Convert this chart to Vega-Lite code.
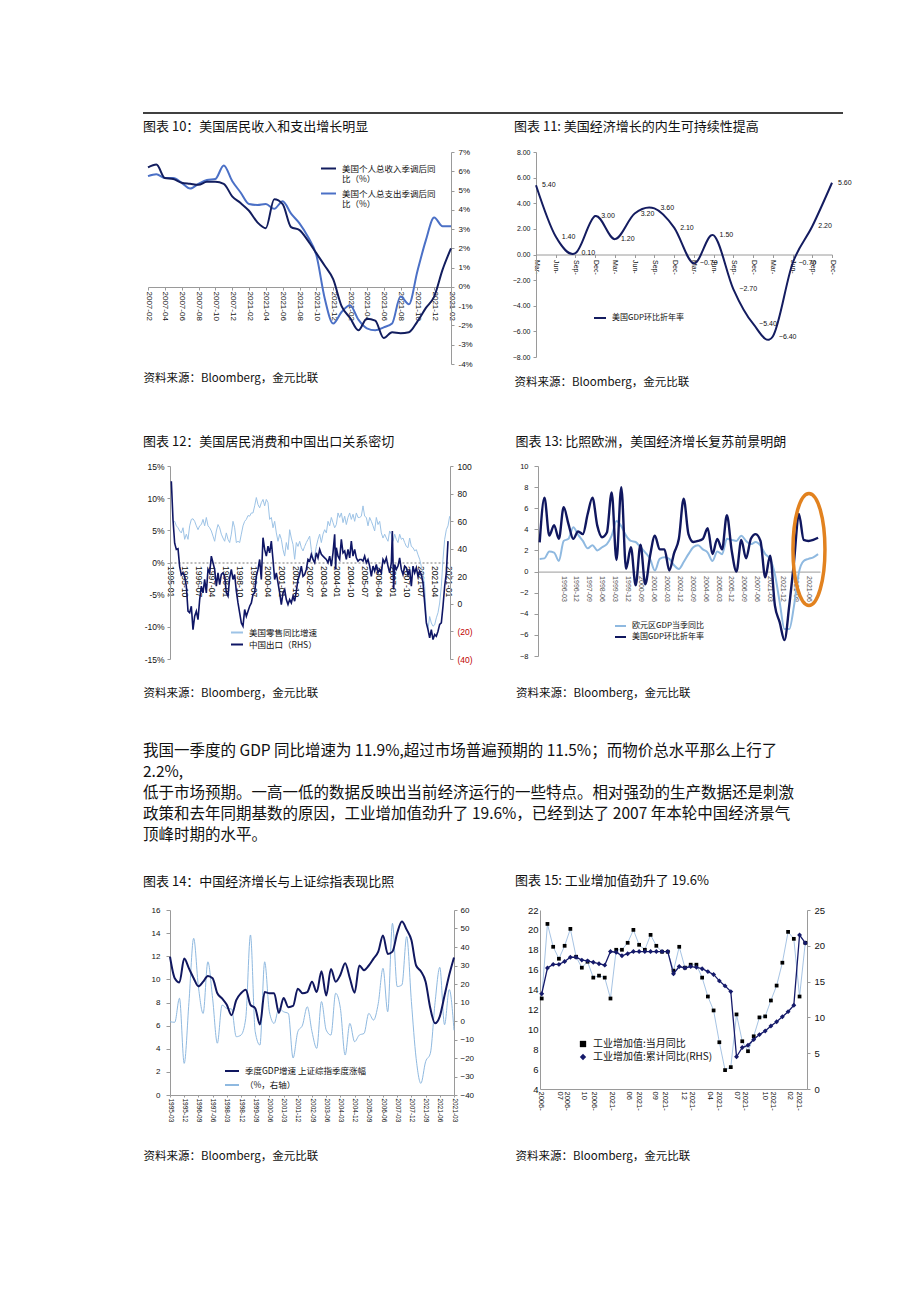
{
"$schema": "https://vega.github.io/schema/vega-lite/v6.json",
"background": "white",
"padding": {"left": 140, "top": 112, "right": 10, "bottom": 10},
"config": {
 "view": {"stroke": null},
 "font": "Liberation Sans",
 "axis": {"grid": false, "labelFont": "Liberation Sans", "labelColor": "#111", "domainColor": "#9a9a9a", "tickColor": "#9a9a9a", "tickSize": 3, "labelFontSize": 8, "labelOverlap": false, "labelFlush": false, "tickCount": 200, "titleFont": "Noto Sans CJK SC", "titleFontSize": 11.5, "titleFontWeight": "normal", "titleColor": "#111", "titleAlign": "left", "titleBaseline": "middle", "titleAngle": 0},
 "title": {"font": "Noto Sans CJK SC", "fontSize": 13, "fontWeight": "normal", "anchor": "start", "color": "#111", "frame": "group"},
 "legend": {"orient": "none", "labelFont": "Noto Sans CJK SC", "labelFontSize": 8.5, "labelColor": "#111", "symbolType": "stroke", "symbolStrokeWidth": 2, "symbolSize": 225, "rowPadding": 2, "padding": 0, "labelOffset": 5, "title": null}
},
"datasets": {
 "para": [
  {"i": 1, "t": "我国一季度的 GDP 同比增速为 11.9%,超过市场普遍预期的 11.5%；而物价总水平那么上行了"},
  {"i": 2, "t": "2.2%,"},
  {"i": 3, "t": "低于市场预期。一高一低的数据反映出当前经济运行的一些特点。相对强劲的生产数据还是刺激"},
  {"i": 4, "t": "政策和去年同期基数的原因，工业增加值劲升了 19.6%，已经到达了 2007 年本轮中国经济景气"},
  {"i": 5, "t": "顶峰时期的水平。"}
 ],
 "c10": [
  {"m":0,"inc":6.2,"exp":5.75},{"m":1,"inc":6.35,"exp":5.85},{"m":2,"inc":5.65,"exp":5.65},{"m":3,"inc":5.6,"exp":5.65},
  {"m":4,"inc":5.4,"exp":5.4},{"m":5,"inc":5.35,"exp":5.1},{"m":6,"inc":5.3,"exp":5.35},{"m":7,"inc":5.45,"exp":5.55},
  {"m":8,"inc":5.45,"exp":5.6},{"m":9,"inc":5.35,"exp":6.3},{"m":10,"inc":4.7,"exp":5.5},{"m":11,"inc":4.35,"exp":4.9},
  {"m":12,"inc":3.95,"exp":4.3},{"m":13,"inc":3.35,"exp":4.25},{"m":14,"inc":3.05,"exp":4.3},{"m":15,"inc":4.55,"exp":4.05},
  {"m":16,"inc":4.3,"exp":4.45},{"m":17,"inc":3.1,"exp":3.8},{"m":18,"inc":2.95,"exp":3.3},{"m":19,"inc":2.4,"exp":2.6},
  {"m":20,"inc":1.75,"exp":1.65},{"m":21,"inc":1.1,"exp":-0.6},{"m":22,"inc":0.4,"exp":-1.9},{"m":23,"inc":-1.0,"exp":-1.3},
  {"m":24,"inc":-1.6,"exp":-0.95},{"m":25,"inc":-2.25,"exp":-1.7},{"m":26,"inc":-1.65,"exp":-2.15},{"m":27,"inc":-1.75,"exp":-2.25},
  {"m":28,"inc":-2.65,"exp":-2.1},{"m":29,"inc":-2.35,"exp":-1.9},{"m":30,"inc":-2.4,"exp":-0.5},{"m":31,"inc":-2.35,"exp":-0.9},
  {"m":32,"inc":-1.8,"exp":0.8},{"m":33,"inc":-1.1,"exp":2.4},{"m":34,"inc":-0.5,"exp":3.6},{"m":35,"inc":0.9,"exp":3.15},{"m":36,"inc":2.0,"exp":3.15}
 ],
 "c11": [
  {"q":0,"v":5.4},{"q":1,"v":1.4},{"q":2,"v":0.1},{"q":3,"v":3.0},{"q":4,"v":1.2},{"q":5,"v":3.2},{"q":6,"v":3.6},{"q":7,"v":2.1},
  {"q":8,"v":-0.7},{"q":9,"v":1.5},{"q":10,"v":-2.7},{"q":11,"v":-5.4},{"q":12,"v":-6.4},{"q":13,"v":-0.7},{"q":14,"v":2.2},{"q":15,"v":5.6}
 ],
 "c12r": [
  {"t":6,"v":6.2},{"t":7,"v":6.4},{"t":8,"v":5.7},{"t":9,"v":5.4},{"t":10,"v":4.9},{"t":11,"v":4.6},{"t":12,"v":5.4},{"t":13,"v":3.6},{"t":14,"v":4.4},{"t":15,"v":3.6},
  {"t":16,"v":5.7},{"t":17,"v":6.7},{"t":18,"v":6.8},{"t":19,"v":6.4},{"t":20,"v":5.7},{"t":21,"v":5.1},{"t":22,"v":5.7},{"t":23,"v":5.9},{"t":24,"v":6.7},{"t":25,"v":5.7},
  {"t":26,"v":7.0},{"t":27,"v":5.7},{"t":28,"v":5.4},{"t":29,"v":4.9},{"t":30,"v":4.1},{"t":31,"v":3.3},{"t":32,"v":4.9},{"t":33,"v":5.9},{"t":34,"v":5.4},{"t":35,"v":4.4},
  {"t":36,"v":3.8},{"t":37,"v":3.3},{"t":38,"v":4.6},{"t":39,"v":3.6},{"t":40,"v":3.1},{"t":41,"v":4.4},{"t":42,"v":6.4},{"t":43,"v":5.4},{"t":44,"v":3.1},{"t":45,"v":3.3},
  {"t":46,"v":3.1},{"t":47,"v":4.4},{"t":48,"v":5.7},{"t":49,"v":6.4},{"t":50,"v":6.7},{"t":51,"v":7.3},{"t":52,"v":7.2},{"t":53,"v":7.7},{"t":54,"v":7.7},{"t":55,"v":8.8},
  {"t":56,"v":10.1},{"t":57,"v":9.0},{"t":58,"v":8.5},{"t":59,"v":9.3},{"t":60,"v":9.8},{"t":61,"v":8.8},{"t":62,"v":9.8},{"t":63,"v":9.3},{"t":64,"v":6.7},{"t":65,"v":7.0},
  {"t":66,"v":5.4},{"t":67,"v":6.4},{"t":68,"v":4.6},{"t":69,"v":3.3},{"t":70,"v":4.4},{"t":71,"v":3.6},{"t":72,"v":2.0},{"t":73,"v":1.0},{"t":74,"v":3.1},{"t":75,"v":2.0},
  {"t":76,"v":5.1},{"t":77,"v":3.8},{"t":78,"v":2.8},{"t":79,"v":0.5},{"t":80,"v":3.1},{"t":81,"v":2.5},{"t":82,"v":3.3},{"t":83,"v":2.3},{"t":84,"v":1.8},{"t":85,"v":2.5},
  {"t":86,"v":3.1},{"t":87,"v":3.6},{"t":88,"v":4.1},{"t":89,"v":2.0},{"t":90,"v":0.5},{"t":91,"v":1.0},{"t":92,"v":2.5},{"t":93,"v":3.6},{"t":94,"v":4.4},{"t":95,"v":3.1},
  {"t":96,"v":4.4},{"t":97,"v":5.1},{"t":98,"v":4.6},{"t":99,"v":6.4},{"t":100,"v":5.7},{"t":101,"v":7.0},{"t":102,"v":6.2},{"t":103,"v":5.4},{"t":104,"v":5.9},{"t":105,"v":7.7},
  {"t":106,"v":7.0},{"t":107,"v":7.7},{"t":108,"v":6.2},{"t":109,"v":7.2},{"t":110,"v":5.9},{"t":111,"v":7.0},{"t":112,"v":7.7},{"t":113,"v":6.7},{"t":114,"v":7.5},{"t":115,"v":6.4},
  {"t":116,"v":7.7},{"t":117,"v":7.0},{"t":118,"v":7.0},{"t":119,"v":7.2},{"t":120,"v":8.8},{"t":121,"v":7.2},{"t":122,"v":7.0},{"t":123,"v":5.7},{"t":124,"v":7.0},{"t":125,"v":6.4},
  {"t":126,"v":5.7},{"t":127,"v":4.9},{"t":128,"v":7.0},{"t":129,"v":5.9},{"t":130,"v":6.4},{"t":131,"v":4.6},{"t":132,"v":3.8},{"t":133,"v":4.4},{"t":134,"v":3.8},{"t":135,"v":3.3},
  {"t":136,"v":4.9},{"t":137,"v":4.4},{"t":138,"v":3.3},{"t":139,"v":4.4},{"t":140,"v":3.6},{"t":141,"v":3.1},{"t":142,"v":4.4},{"t":143,"v":3.6},{"t":144,"v":3.8},{"t":145,"v":3.1},
  {"t":146,"v":2.5},{"t":147,"v":2.3},{"t":148,"v":3.8},{"t":149,"v":2.5},{"t":150,"v":2.3},{"t":151,"v":1.8},{"t":152,"v":2.0},{"t":153,"v":1.2},{"t":154,"v":0.5},{"t":155,"v":-0.6},
  {"t":156,"v":-1.9},{"t":157,"v":-3.7},{"t":158,"v":-8.9},{"t":159,"v":-10.4},{"t":160,"v":-8.4},{"t":161,"v":-9.4},{"t":162,"v":-9.9},{"t":163,"v":-9.7},{"t":164,"v":-8.6},{"t":165,"v":-7.8},
  {"t":166,"v":-6.3},{"t":167,"v":-3.7},{"t":168,"v":0.5},{"t":169,"v":3.6},{"t":170,"v":5.1},{"t":171,"v":5.7},{"t":172,"v":7.2}
 ],
 "c12e": [
  {"t":5,"v":89},{"t":6,"v":61},{"t":7,"v":44},{"t":8,"v":39.5},{"t":9,"v":40},{"t":10,"v":27},{"t":11,"v":21},{"t":12,"v":22.5},{"t":13,"v":20},{"t":14,"v":12.8},
  {"t":15,"v":-5.3},{"t":16,"v":-6.5},{"t":17,"v":-1.7},{"t":18,"v":-18.7},{"t":19,"v":-9},{"t":20,"v":-5.3},{"t":21,"v":-11.4},{"t":22,"v":3.1},{"t":23,"v":12.8},{"t":24,"v":8},
  {"t":25,"v":17.7},{"t":26,"v":8},{"t":27,"v":25},{"t":28,"v":22.5},{"t":29,"v":34.6},{"t":30,"v":29.8},{"t":31,"v":25},{"t":32,"v":12.8},{"t":33,"v":22.5},{"t":34,"v":14},
  {"t":35,"v":21.3},{"t":36,"v":22.5},{"t":37,"v":20},{"t":38,"v":8},{"t":39,"v":5.6},{"t":40,"v":18.9},{"t":41,"v":25},{"t":42,"v":17.7},{"t":43,"v":21.3},{"t":44,"v":9.2},
  {"t":45,"v":0.7},{"t":46,"v":-6.5},{"t":47,"v":-13.8},{"t":48,"v":-16.2},{"t":49,"v":-4.1},{"t":50,"v":-9},{"t":51,"v":-5.3},{"t":52,"v":-1.7},{"t":53,"v":0.7},{"t":54,"v":6.8},
  {"t":55,"v":8},{"t":56,"v":20},{"t":57,"v":25},{"t":58,"v":32.2},{"t":59,"v":17.7},{"t":60,"v":48},{"t":61,"v":39.5},{"t":62,"v":34.6},{"t":63,"v":41.9},{"t":64,"v":37},
  {"t":65,"v":45.5},{"t":66,"v":32},{"t":67,"v":17.7},{"t":68,"v":22.5},{"t":69,"v":15.3},{"t":70,"v":8},{"t":71,"v":-0.5},{"t":72,"v":8},{"t":73,"v":10.4},{"t":74,"v":3.1},
  {"t":75,"v":-0.5},{"t":76,"v":3.1},{"t":77,"v":0.7},{"t":78,"v":5.6},{"t":79,"v":1.9},{"t":80,"v":9.2},{"t":81,"v":17.7},{"t":82,"v":21.3},{"t":83,"v":27.4},{"t":84,"v":20},
  {"t":85,"v":21.3},{"t":86,"v":25},{"t":87,"v":32.2},{"t":88,"v":31},{"t":89,"v":35.9},{"t":90,"v":32.2},{"t":91,"v":29.8},{"t":92,"v":37},{"t":93,"v":33.4},{"t":94,"v":39.5},
  {"t":95,"v":35.9},{"t":96,"v":34.6},{"t":97,"v":33.4},{"t":98,"v":32.2},{"t":99,"v":29.8},{"t":100,"v":34.6},{"t":101,"v":27.4},{"t":102,"v":37},{"t":103,"v":50.4},{"t":103.6,"v":25},
  {"t":104,"v":40.7},{"t":105,"v":34.6},{"t":106,"v":32.2},{"t":107,"v":46.8},{"t":108,"v":37},{"t":109,"v":38.3},{"t":110,"v":32.2},{"t":111,"v":39.5},{"t":112,"v":33.4},{"t":113,"v":45.5},
  {"t":114,"v":34.6},{"t":115,"v":39.5},{"t":116,"v":33.4},{"t":117,"v":31},{"t":118,"v":32.2},{"t":119,"v":32.2},{"t":120,"v":31},{"t":121,"v":34.6},{"t":122,"v":29.8},{"t":123,"v":32.2},
  {"t":124,"v":27.4},{"t":125,"v":20},{"t":126,"v":27.4},{"t":127,"v":23.7},{"t":128,"v":28.6},{"t":129,"v":22.5},{"t":130,"v":25},{"t":131,"v":22.5},{"t":132,"v":32.2},{"t":133,"v":29.8},
  {"t":134,"v":33.4},{"t":135,"v":27.4},{"t":136,"v":22.5},{"t":137,"v":29.8},{"t":137.6,"v":52.8},{"t":138.4,"v":10.4},{"t":139,"v":28.6},{"t":140,"v":25},{"t":141,"v":27.4},{"t":142,"v":33.4},
  {"t":143,"v":25},{"t":144,"v":21.3},{"t":145,"v":27.4},{"t":146,"v":26.2},{"t":147,"v":21.3},{"t":148,"v":25},{"t":149,"v":12.8},{"t":150,"v":27.4},{"t":151,"v":22.5},{"t":152,"v":26.2},
  {"t":153,"v":20},{"t":154,"v":23.7},{"t":155,"v":21.3},{"t":156,"v":15.3},{"t":157,"v":0.7},{"t":158,"v":-13.8},{"t":159,"v":-18.7},{"t":160,"v":-24.7},{"t":161,"v":-18.7},{"t":162,"v":-25.9},
  {"t":163,"v":-22.3},{"t":164,"v":-23.5},{"t":165,"v":-19.9},{"t":166,"v":-14.9},{"t":167,"v":-13.8},{"t":168,"v":-1.7},{"t":169,"v":12.8},{"t":170,"v":22.5},{"t":171,"v":45.5}
 ],
 "c13": [
  {"k":0,"us":2.76,"eu":1.2},{"k":1,"us":7.0,"eu":1.25},{"k":2,"us":3.4,"eu":1.9},{"k":3,"us":4.4,"eu":1.8},{"k":4,"us":3.1,"eu":1.0},
  {"k":5,"us":6.1,"eu":2.9},{"k":6,"us":4.5,"eu":3.1},{"k":7,"us":3.1,"eu":4.2},{"k":8,"us":3.8,"eu":3.5},{"k":9,"us":3.55,"eu":2.9},
  {"k":10,"us":5.45,"eu":2.2},{"k":11,"us":7.0,"eu":2.5},{"k":12,"us":4.35,"eu":2.0},{"k":13,"us":3.25,"eu":2.3},{"k":14,"us":3.7,"eu":2.6},
  {"k":15,"us":7.5,"eu":3.4},{"k":16,"us":1.1,"eu":4.8},{"k":17,"us":8.0,"eu":4.3},{"k":18,"us":0.25,"eu":3.4},{"k":19,"us":2.3,"eu":2.9},
  {"k":20,"us":-1.3,"eu":2.8},{"k":21,"us":2.55,"eu":2.3},{"k":22,"us":-1.2,"eu":1.8},{"k":23,"us":1.5,"eu":1.2},{"k":24,"us":3.4,"eu":0.1},
  {"k":25,"us":2.1,"eu":1.2},{"k":26,"us":2.1,"eu":1.35},{"k":27,"us":0.1,"eu":1.2},{"k":28,"us":1.75,"eu":0.6},{"k":29,"us":3.1,"eu":0.25},
  {"k":30,"us":6.9,"eu":0.9},{"k":31,"us":3.55,"eu":1.65},{"k":32,"us":2.8,"eu":2.3},{"k":33,"us":2.9,"eu":2.5},{"k":34,"us":3.1,"eu":2.1},
  {"k":35,"us":4.1,"eu":1.8},{"k":36,"us":1.65,"eu":1.0},{"k":37,"us":3.1,"eu":1.9},{"k":38,"us":2.1,"eu":1.65},{"k":39,"us":5.35,"eu":3.1},
  {"k":40,"us":2.0,"eu":3.0},{"k":41,"us":0.0,"eu":2.9},{"k":42,"us":3.0,"eu":3.4},{"k":43,"us":1.25,"eu":2.9},{"k":44,"us":3.1,"eu":2.6},
  {"k":45,"us":3.55,"eu":2.8},{"k":46,"us":2.9,"eu":2.45},{"k":47,"us":-0.55,"eu":1.65},{"k":48,"us":1.5,"eu":1.2},{"k":49,"us":-3.2,"eu":-0.25},
  {"k":50,"us":-4.8,"eu":-2.9},{"k":51,"us":-6.5,"eu":-5.45},{"k":52,"us":-3.2,"eu":-5.45},{"k":53,"us":1.0,"eu":-3.2},{"k":54,"us":5.45,"eu":-0.1},
  {"k":55,"us":3.0,"eu":1.0},{"k":56,"us":2.9,"eu":1.2},{"k":57,"us":3.0,"eu":1.35},{"k":58,"us":3.2,"eu":1.65}
 ],
 "c13mark": [{"k": 56.1, "v": 2.1}],
 "c14": [
  {"i":0,"g":11.96,"s":-0.4},{"i":1,"g":10.1,"s":-0.7},{"i":2,"g":9.74,"s":12.3},{"i":3,"g":11.8,"s":-22.9},{"i":4,"g":10.95,"s":10},
  {"i":5,"g":10.1,"s":44.7},{"i":6,"g":9.4,"s":18.6},{"i":7,"g":9.8,"s":4.1},{"i":8,"g":10.3,"s":32},{"i":9,"g":10.1,"s":12.3},
  {"i":10,"g":8.8,"s":-12},{"i":11,"g":8.35,"s":8.6},{"i":12,"g":7.8,"s":6.8},{"i":13,"g":6.9,"s":6.5},{"i":14,"g":8.2,"s":-8.5},
  {"i":15,"g":8.8,"s":-7.6},{"i":16,"g":9.1,"s":1.4},{"i":17,"g":7.8,"s":46.5},{"i":18,"g":7.5,"s":-5.8},{"i":19,"g":6.1,"s":-13},
  {"i":20,"g":8.9,"s":32},{"i":21,"g":8.8,"s":5},{"i":22,"g":8.8,"s":-1.3},{"i":23,"g":7.1,"s":6.8},{"i":24,"g":8.4,"s":5},
  {"i":25,"g":7.6,"s":4.1},{"i":26,"g":7.7,"s":-20},{"i":27,"g":9.2,"s":-5.8},{"i":28,"g":8.8,"s":-2.2},{"i":29,"g":8.9,"s":7.7},
  {"i":30,"g":9.8,"s":-5.8},{"i":31,"g":8.9,"s":-14.8},{"i":32,"g":10.7,"s":10.5},{"i":33,"g":8.6,"s":-4.9},{"i":34,"g":10.9,"s":-7.6},
  {"i":35,"g":9.8,"s":15},{"i":36,"g":10.4,"s":6.8},{"i":37,"g":11.4,"s":-18.4},{"i":38,"g":10.1,"s":-1.3},{"i":39,"g":8.85,"s":-11.2},
  {"i":40,"g":11.2,"s":-7.6},{"i":41,"g":10.8,"s":-6.7},{"i":42,"g":11.2,"s":4.1},{"i":43,"g":11.8,"s":0.5},{"i":44,"g":12.4,"s":9.5},
  {"i":45,"g":13.8,"s":28.5},{"i":46,"g":12.2,"s":5},{"i":47,"g":12.4,"s":52.8},{"i":48,"g":14.0,"s":18.6},{"i":49,"g":15.0,"s":19.5},
  {"i":50,"g":14.3,"s":45.6},{"i":51,"g":13.4,"s":10.5},{"i":52,"g":11.2,"s":-20.2},{"i":53,"g":10.7,"s":-33.7},{"i":54,"g":9.8,"s":-22},
  {"i":55,"g":7.5,"s":-17.5},{"i":56,"g":6.2,"s":10},{"i":57,"g":6.8,"s":29},{"i":58,"g":8.6,"s":-2},{"i":59,"g":10.4,"s":17},{"i":60,"g":11.9,"s":-5}
 ],
 "c15": [
  {"i":0,"m":13.1,"c":13.3},{"i":1,"m":20.6,"c":16.9},{"i":2,"m":18.3,"c":17.4},{"i":3,"m":17.1,"c":17.4},{"i":4,"m":18.4,"c":17.8},
  {"i":5,"m":20.1,"c":18.4},{"i":6,"m":17.3,"c":18.4},{"i":7,"m":16.2,"c":18.0},{"i":8,"m":16.8,"c":17.9},{"i":9,"m":15.2,"c":17.7},
  {"i":10,"m":15.4,"c":17.5},{"i":11,"m":15.2,"c":17.3},{"i":12,"m":13.1,"c":19.2},{"i":13,"m":18.0,"c":19.1},{"i":14,"m":18.0,"c":18.6},
  {"i":15,"m":18.7,"c":18.9},{"i":16,"m":20.0,"c":19.2},{"i":17,"m":18.5,"c":19.2},{"i":18,"m":18.0,"c":19.2},{"i":19,"m":19.5,"c":19.2},
  {"i":20,"m":18.4,"c":19.2},{"i":21,"m":17.8,"c":19.2},{"i":22,"m":17.8,"c":19.2},{"i":23,"m":15.9,"c":16.1},{"i":24,"m":18.3,"c":17.1},
  {"i":25,"m":16.2,"c":16.9},{"i":26,"m":16.5,"c":17.1},{"i":27,"m":16.5,"c":17.0},{"i":28,"m":15.2,"c":16.8},{"i":29,"m":13.3,"c":16.4},
  {"i":30,"m":11.9,"c":16.0},{"i":31,"m":8.7,"c":15.1},{"i":32,"m":5.9,"c":14.4},{"i":33,"m":6.2,"c":13.6},{"i":34,"m":11.5,"c":4.5},
  {"i":35,"m":8.8,"c":5.8},{"i":36,"m":7.8,"c":6.1},{"i":37,"m":9.3,"c":6.9},{"i":38,"m":11.2,"c":7.6},{"i":39,"m":11.3,"c":8.1},
  {"i":40,"m":12.9,"c":8.8},{"i":41,"m":14.4,"c":9.4},{"i":42,"m":16.7,"c":10.1},{"i":43,"m":19.8,"c":10.8},{"i":44,"m":19.1,"c":11.7},
  {"i":45,"m":13.3,"c":21.5},{"i":46,"m":18.7,"c":20.4}
 ]
},
"bounds": "flush",
"spacing": 0,
"resolve": {"scale": {"color": "independent", "shape": "independent"}, "legend": {"color": "independent", "shape": "independent"}},
"vconcat": [
 {"width": 700, "height": 1, "data": {"values": [{}]}, "mark": {"type": "rule", "color": "#000", "strokeWidth": 1.5},
  "encoding": {"y": {"datum": 0, "type": "quantitative", "scale": {"domain": [0, 1]}, "axis": null}}},
 {"width": 1, "height": 39, "data": {"values": [{}]}, "mark": {"type": "point", "opacity": 0}, "encoding": {}},
 {"bounds": "flush", "spacing": 0,
  "resolve": {"scale": {"color": "independent", "shape": "independent"}, "legend": {"color": "independent", "shape": "independent"}},
  "hconcat": [
  {"width": 5, "height": 212, "data": {"values": [{}]}, "mark": {"type": "point", "opacity": 0}, "encoding": {}},
  {"width": 303, "height": 212,
   "title": {"text": "图表 10：美国居民收入和支出增长明显", "dx": -5, "offset": 14},
   "data": {"name": "c10"},
   "layer": [
    {"mark": {"type": "line", "interpolate": "monotone", "strokeWidth": 2},
     "encoding": {
      "x": {"field": "m", "type": "quantitative", "scale": {"domain": [0, 36], "nice": false},
            "axis": {"offset": -77, "tickCount": 200, "values": [0,2,4,6,8,10,12,14,16,18,20,22,24,26,28,30,32,34,36], "labelOverlap": false,
                     "labelExpr": "['2007-02','2007-04','2007-06','2007-08','2007-10','2007-12','2021-02','2021-04','2021-06','2021-08','2021-10','2021-12','2021-02','2021-04','2021-06','2021-08','2021-10','2021-12','2021-02'][datum.value/2]",
                     "labelAngle": 90, "labelAlign": "left", "labelBaseline": "middle", "labelPadding": 1, "labelFontSize": 8,
                     "title": "资料来源：Bloomberg，金元比联", "titleX": -5, "titleY": 91}},
      "y": {"field": "exp", "type": "quantitative", "scale": {"domain": [-4, 7], "nice": false, "zero": false},
            "axis": {"orient": "right", "tickCount": 200, "values": [-4,-3,-2,-1,0,1,2,3,4,5,6,7], "labelOverlap": false, "labelExpr": "datum.value + '%'", "title": null, "labelPadding": 4, "labelFontSize": 8}},
      "color": {"datum": "exp", "scale": {"domain": ["inc", "exp"], "range": ["#121d5e", "#4b70c6"]},
                "legend": {"legendX": 172, "legendY": 8, "rowPadding": 1, "labelExpr": "datum.value == 'inc' ? ['美国个人总收入季调后同', '比（%）'] : ['美国个人总支出季调后同', '比（%）']"}}
     }},
    {"mark": {"type": "line", "interpolate": "monotone", "strokeWidth": 2},
     "encoding": {
      "x": {"field": "m", "type": "quantitative"},
      "y": {"field": "inc", "type": "quantitative"},
      "color": {"datum": "inc"}
     }}
   ]},
  {"width": 85, "height": 1, "data": {"values": [{}]}, "mark": {"type": "point", "opacity": 0}, "encoding": {}},
  {"width": 296, "height": 205,
   "title": {"text": "图表 11: 美国经济增长的内生可持续性提高", "dx": -22, "offset": 14},
   "data": {"name": "c11"},
   "layer": [
    {"mark": {"type": "line", "interpolate": "cardinal", "strokeWidth": 2},
     "encoding": {
      "x": {"field": "q", "type": "quantitative", "scale": {"domain": [0, 15], "nice": false},
            "axis": {"offset": -102.5, "tickCount": 200, "values": [0,1,2,3,4,5,6,7,8,9,10,11,12,13,14,15], "labelOverlap": false,
                     "labelExpr": "['Mar-','Jun-','Sep-','Dec-'][datum.value % 4]",
                     "labelAngle": 90, "labelAlign": "left", "labelBaseline": "middle", "labelPadding": 2, "labelFontSize": 7,
                     "title": "资料来源：Bloomberg，金元比联", "titleX": -22, "titleY": 127.5}},
      "y": {"field": "v", "type": "quantitative", "scale": {"domain": [-8, 8], "nice": false},
            "axis": {"tickCount": 200, "values": [-8,-6,-4,-2,0,2,4,6,8], "labelOverlap": false, "format": ".2f", "title": null, "labelFontSize": 7, "labelPadding": 3}},
      "color": {"datum": "美国GDP环比折年率", "scale": {"range": ["#141c60"]},
                "legend": {"legendX": 57, "legendY": 159, "symbolSize": 144, "labelFontSize": 8}}
     }},
    {"mark": {"type": "text", "align": "left", "baseline": "middle", "dx": 6, "fontSize": 7, "color": "#111"},
     "encoding": {
      "x": {"field": "q", "type": "quantitative"},
      "y": {"field": "v", "type": "quantitative"},
      "text": {"field": "v", "type": "quantitative", "format": ".2f"}
     }}
   ]}
 ]},
 {"width": 1, "height": 314, "data": {"values": [{}]}, "mark": {"type": "point", "opacity": 0}, "encoding": {}},
 {"bounds": "flush", "spacing": 0,
  "resolve": {"scale": {"color": "independent", "shape": "independent"}, "legend": {"color": "independent", "shape": "independent"}},
  "hconcat": [
  {"width": 27, "height": 193, "data": {"values": [{}]}, "mark": {"type": "point", "opacity": 0}, "encoding": {}},
  {"width": 280, "height": 193,
   "title": {"text": "图表 12：美国居民消费和中国出口关系密切", "dx": -27, "offset": 13},
   "layer": [
    {"data": {"name": "c12r"},
     "mark": {"type": "line", "strokeWidth": 1},
     "encoding": {
      "x": {"field": "t", "type": "quantitative", "scale": {"domain": [4.2, 172.2], "nice": false},
            "axis": {"offset": -96.5, "tickCount": 200, "values": [4.4,12.73,21.06,29.39,37.72,46.05,54.38,62.71,71.04,79.37,87.7,96.03,104.36,112.69,121.02,129.35,137.68,146.01,154.34,162.67,171], "labelOverlap": false,
                     "labelExpr": "['1995-01','1995-10','1996-07','1997-04','1998-01','1998-10','1999-07','2000-04','2001-01','2001-10','2002-07','2003-04','2004-01','2004-10','2005-07','2006-04','2007-01','2007-10','2021-07','2021-04','2021-01'][round((datum.value-4.4)/8.33)]",
                     "labelAngle": 90, "labelAlign": "left", "labelBaseline": "middle", "labelPadding": 3, "labelFontSize": 8.5, "ticks": false,
                     "domainDash": [2, 2], "domainColor": "#777",
                     "title": "资料来源：Bloomberg，金元比联", "titleX": -27, "titleY": 130.5}},
      "y": {"field": "v", "type": "quantitative", "scale": {"domain": [-15, 15], "nice": false},
            "axis": {"tickCount": 200, "values": [-15,-10,-5,0,5,10,15], "labelOverlap": false, "labelExpr": "datum.value + '%'", "title": null, "labelFontSize": 8.5, "labelPadding": 3}},
      "color": {"datum": "美国零售同比增速", "scale": {"domain": ["美国零售同比增速", "中国出口（RHS）"], "range": ["#9dc3e6", "#0f1665"]},
                "legend": {"legendX": 60, "legendY": 159.5, "symbolSize": 144, "rowPadding": 0}}
     }},
    {"data": {"name": "c12e"},
     "mark": {"type": "line", "strokeWidth": 1.6},
     "encoding": {
      "x": {"field": "t", "type": "quantitative"},
      "y": {"field": "v", "type": "quantitative", "scale": {"domain": [-40, 100], "nice": false},
            "axis": {"orient": "right", "tickCount": 200, "values": [-40,-20,0,20,40,60,80,100], "labelOverlap": false, "labelExpr": "datum.value < 0 ? '(' + (-datum.value) + ')' : '' + datum.value",
                     "labelColor": {"condition": {"test": "datum.value < 0", "value": "#c00000"}, "value": "#111"},
                     "title": null, "labelFontSize": 8.5, "labelPadding": 4}},
      "color": {"datum": "中国出口（RHS）"}
     }}
   ],
   "resolve": {"scale": {"y": "independent"}}},
  {"width": 87.3, "height": 1, "data": {"values": [{}]}, "mark": {"type": "point", "opacity": 0}, "encoding": {}},
  {"width": 282, "height": 190,
   "title": {"text": "图表 13: 比照欧洲，美国经济增长复苏前景明朗", "dx": -22.6, "offset": 13},
   "layer": [
    {"data": {"name": "c13"},
     "mark": {"type": "line", "interpolate": "monotone", "strokeWidth": 2},
     "encoding": {
      "x": {"field": "k", "type": "quantitative", "scale": {"domain": [-0.35, 58.4], "nice": false},
            "axis": {"offset": -84.4, "tickCount": 200, "values": [4.87,7.56,10.25,12.94,15.63,18.32,21.01,23.7,26.39,29.08,31.77,34.46,37.15,39.84,42.53,45.22,47.91,50.6,53.29,55.98], "labelOverlap": false,
                     "labelExpr": "['1996-03','1996-12','1997-09','1998-06','1999-03','1999-12','2000-09','2001-06','2002-03','2002-12','2003-09','2004-06','2005-03','2005-12','2006-09','2007-06','2021-03','2021-12','2021-09','2021-06'][round((datum.value-4.87)/2.69)]",
                     "labelAngle": 90, "labelAlign": "left", "labelBaseline": "middle", "labelPadding": 4, "labelFontSize": 7, "labelColor": "#555", "ticks": false,
                     "title": "资料来源：Bloomberg，金元比联", "titleX": -22.6, "titleY": 121.4}},
      "y": {"field": "eu", "type": "quantitative", "scale": {"domain": [-8, 10], "nice": false},
            "axis": {"tickCount": 200, "values": [-8,-6,-4,-2,0,2,4,6,8,10], "format": "d", "labelOverlap": false, "title": null, "labelFontSize": 7.5, "labelPadding": 6, "tickSize": 4}},
      "color": {"datum": "欧元区GDP当季同比", "scale": {"domain": ["欧元区GDP当季同比", "美国GDP环比折年率"], "range": ["#8fb9e0", "#10175f"]},
                "legend": {"legendX": 76, "legendY": 153.5, "symbolSize": 121, "rowPadding": 0, "labelFontSize": 8}}
     }},
    {"data": {"name": "c13"},
     "mark": {"type": "line", "interpolate": "monotone", "strokeWidth": 2.4},
     "encoding": {
      "x": {"field": "k", "type": "quantitative"},
      "y": {"field": "us", "type": "quantitative"},
      "color": {"datum": "美国GDP环比折年率"}
     }},
    {"data": {"name": "c13mark"},
     "mark": {"type": "point", "shape": "M -1 0 A 1 3.5 0 1 1 1 0 A 1 3.5 0 1 1 -1 0 Z", "filled": false, "stroke": "#e2821f", "strokeWidth": 3.5, "size": 1024, "opacity": 1},
     "encoding": {
      "x": {"field": "k", "type": "quantitative"},
      "y": {"field": "v", "type": "quantitative"}
     }}
   ]}
 ]},
 {"width": 1, "height": 274, "data": {"values": [{}]}, "mark": {"type": "point", "opacity": 0}, "encoding": {}},
 {"width": 700, "height": 105,
  "data": {"name": "para"},
  "mark": {"type": "text", "align": "left", "baseline": "middle", "font": "Noto Sans CJK SC", "fontSize": 15.5, "color": "#111"},
  "encoding": {
   "y": {"field": "i", "type": "ordinal", "scale": {"type": "point", "padding": 0.5}, "axis": null},
   "x": {"datum": 0, "type": "quantitative", "scale": {"domain": [0, 1]}, "axis": null},
   "text": {"field": "t"}
  }},
 {"width": 1, "height": 65, "data": {"values": [{}]}, "mark": {"type": "point", "opacity": 0}, "encoding": {}},
 {"bounds": "flush", "spacing": 0,
  "resolve": {"scale": {"color": "independent", "shape": "independent"}, "legend": {"color": "independent", "shape": "independent"}},
  "hconcat": [
  {"width": 27, "height": 185, "data": {"values": [{}]}, "mark": {"type": "point", "opacity": 0}, "encoding": {}},
  {"width": 284, "height": 185,
   "title": {"text": "图表 14：中国经济增长与上证综指表现比照", "dx": -27, "offset": 17},
   "data": {"name": "c14"},
   "layer": [
    {"mark": {"type": "line", "interpolate": "monotone", "strokeWidth": 1},
     "encoding": {
      "x": {"field": "i", "type": "quantitative", "scale": {"domain": [0, 60], "nice": false},
            "axis": {"tickCount": 200, "values": [0,3,6,9,12,15,18,21,24,27,30,33,36,39,42,45,48,51,54,57,60], "labelOverlap": false,
                     "labelExpr": "['1995-03','1995-12','1996-09','1997-06','1998-03','1998-12','1999-09','2000-06','2001-03','2001-12','2002-09','2003-06','2004-03','2004-12','2005-09','2006-06','2007-03','2007-12','2021-09','2021-06','2021-03'][datum.value/3]",
                     "labelAngle": 90, "labelAlign": "left", "labelBaseline": "middle", "labelPadding": 1, "labelFontSize": 6.5, "tickSize": 2,
                     "title": "资料来源：Bloomberg，金元比联", "titleX": -27, "titleY": 61}},
      "y": {"field": "s", "type": "quantitative", "scale": {"domain": [-40, 60], "nice": false},
            "axis": {"orient": "right", "tickCount": 200, "values": [-40,-30,-20,-10,0,10,20,30,40,50,60], "format": "d", "labelOverlap": false, "title": null, "labelFontSize": 8, "labelPadding": 3}},
      "color": {"datum": "（%，右轴）", "scale": {"domain": ["季度GDP增速  上证综指季度涨幅", "（%，右轴）"], "range": ["#10175f", "#8fb9e0"]},
                "legend": {"legendX": 54, "legendY": 153, "symbolSize": 196, "rowPadding": 1}}
     }},
    {"mark": {"type": "line", "interpolate": "monotone", "strokeWidth": 2},
     "encoding": {
      "x": {"field": "i", "type": "quantitative"},
      "y": {"field": "g", "type": "quantitative", "scale": {"domain": [0, 16], "nice": false},
            "axis": {"orient": "left", "tickCount": 200, "values": [0,2,4,6,8,10,12,14,16], "format": "d", "labelOverlap": false, "title": null, "labelFontSize": 8, "labelPadding": 6, "tickSize": 4}},
      "color": {"datum": "季度GDP增速  上证综指季度涨幅"}
     }}
   ],
   "resolve": {"scale": {"y": "independent"}}},
  {"width": 85.7, "height": 1, "data": {"values": [{}]}, "mark": {"type": "point", "opacity": 0}, "encoding": {}},
  {"width": 267, "height": 179,
   "title": {"text": "图表 15: 工业增加值劲升了 19.6%", "dx": -25, "offset": 17},
   "data": {"name": "c15"},
   "layer": [
    {"layer": [
      {"mark": {"type": "line", "strokeWidth": 0.8, "color": "#8fb4dc"},
       "encoding": {
        "x": {"field": "i", "type": "quantitative", "scale": {"domain": [-0.3, 46.3], "nice": false},
              "axis": {"tickCount": 200, "values": [-0.3,3.1,4.3,7.3,9.0,12.2,15.2,16.9,19.7,21.5,24.8,26.2,29.3,30.9,34.0,35.4,38.8,40.2,43.3,44.9], "labelOverlap": false,
                       "labelExpr": "['2006-','07','2006-','10','2006-','2021-','06','2021-','09','2021-','12','2021-','04','2021-','07','2021-','10','2021-','02','2021-'][indexof([-0.3,3.1,4.3,7.3,9.0,12.2,15.2,16.9,19.7,21.5,24.8,26.2,29.3,30.9,34.0,35.4,38.8,40.2,43.3,44.9], datum.value)]",
                       "labelAngle": 90, "labelAlign": "left", "labelBaseline": "middle", "labelPadding": 2, "labelFontSize": 7.5, "ticks": false,
                       "title": "资料来源：Bloomberg，金元比联", "titleX": -25, "titleY": 67}},
        "y": {"field": "m", "type": "quantitative", "scale": {"domain": [4, 22], "nice": false},
              "axis": {"tickCount": 200, "values": [4,6,8,10,12,14,16,18,20,22], "format": "d", "labelOverlap": false, "title": null, "labelFontSize": 9.5, "labelPadding": 2, "tickSize": 0}}
       }},
      {"mark": {"type": "point", "filled": true, "size": 14, "opacity": 1},
       "encoding": {
        "x": {"field": "i", "type": "quantitative"},
        "y": {"field": "m", "type": "quantitative"},
        "color": {"datum": "工业增加值:当月同比", "scale": {"domain": ["工业增加值:当月同比", "工业增加值:累计同比(RHS)"], "range": ["#000000", "#151a6a"]},
                  "legend": {"legendX": 38, "legendY": 129, "symbolSize": 40, "rowPadding": 3, "labelFontSize": 10}},
        "shape": {"datum": "工业增加值:当月同比", "scale": {"domain": ["工业增加值:当月同比", "工业增加值:累计同比(RHS)"], "range": ["square", "diamond"]}}
       }}
    ]},
    {"layer": [
      {"mark": {"type": "line", "strokeWidth": 1.3, "color": "#151a6a"},
       "encoding": {
        "x": {"field": "i", "type": "quantitative"},
        "y": {"field": "c", "type": "quantitative", "scale": {"domain": [0, 25], "nice": false},
              "axis": {"orient": "right", "tickCount": 200, "values": [0,5,10,15,20,25], "format": "d", "labelOverlap": false, "title": null, "labelFontSize": 9.5, "labelPadding": 4, "tickSize": 3}}
       }},
      {"mark": {"type": "point", "filled": true, "size": 24, "opacity": 1},
       "encoding": {
        "x": {"field": "i", "type": "quantitative"},
        "y": {"field": "c", "type": "quantitative"},
        "color": {"datum": "工业增加值:累计同比(RHS)"},
        "shape": {"datum": "工业增加值:累计同比(RHS)"}
       }}
    ]}
   ],
   "resolve": {"scale": {"y": "independent"}}}
 ]}
]
}
